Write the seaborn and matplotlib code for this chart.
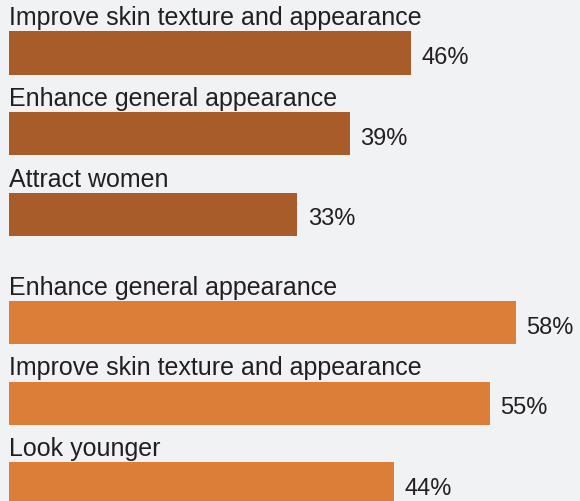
import matplotlib
matplotlib.use("Agg")
import matplotlib.pyplot as plt
import seaborn as sns
import pandas as pd

# Reasons for cosmetic procedures, two respondent groups
reasons_group_a = ["Improve skin texture and appearance", "Enhance general appearance", "Attract women"]
shares_group_a = [46, 39, 33]
reasons_group_b = ["Enhance general appearance", "Improve skin texture and appearance", "Look younger"]
shares_group_b = [58, 55, 44]

colors = {"a": "#a85c2a", "b": "#dc7d38"}
bg = "#f1f2f4"
text_color = "#231f20"

group_gap = 0.34   # extra spacing between the two groups, in bar slots
bar_h = 0.533

labels = reasons_group_a + reasons_group_b
values = shares_group_a + shares_group_b
groups = ["a"] * len(shares_group_a) + ["b"] * len(shares_group_b)
positions = [i + (group_gap if g == "b" else 0) for i, g in enumerate(groups)]

df = pd.DataFrame({"reason": labels, "share": values, "group": groups, "pos": positions})

sns.set_theme(style="white")
plt.rcParams["font.family"] = ["Liberation Sans", "DejaVu Sans"]

fig = plt.figure(figsize=(5.8, 5.02), dpi=100, facecolor=bg)
ax = fig.add_axes([0, 0, 1, 1])
ax.set_facecolor(bg)

sns.barplot(data=df, x="share", y="pos", hue="group", palette=colors,
            orient="h", native_scale=True, dodge=False, width=bar_h,
            legend=False, saturation=1, linewidth=0, ax=ax)

for _, row in df.iterrows():
    ax.text(0, row["pos"] - bar_h / 2 - 0.09, row["reason"], ha="left",
            va="baseline", fontsize=18, color=text_color)
    ax.text(row["share"] + 1.2, row["pos"] + 0.124, f"{row['share']}%",
            ha="left", va="baseline", fontsize=17, color=text_color)

ax.set_xlim(-1.03, 65.33)
ax.set_ylim(5.551, -0.669)
ax.axis("off")

fig.savefig("out.png", dpi=100, facecolor=bg)
